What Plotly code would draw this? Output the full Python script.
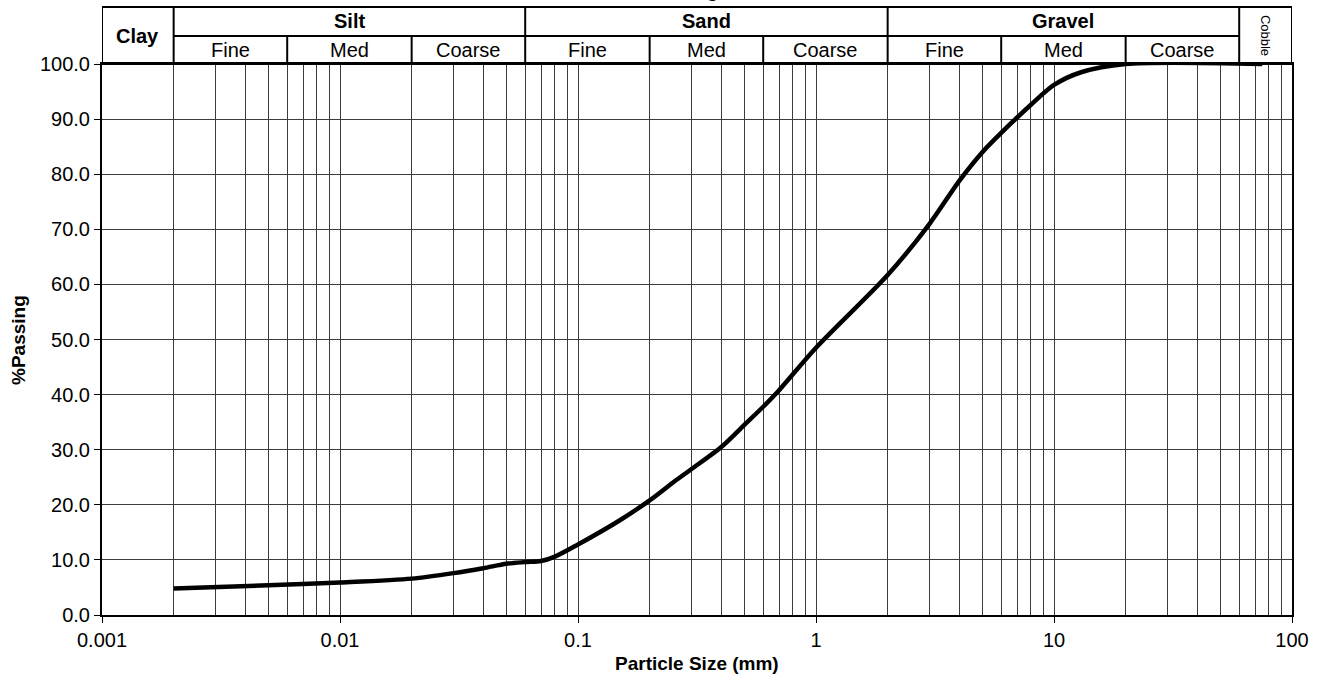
import numpy as np
import plotly.graph_objects as go

# ---- data ----
size_mm = [0.002, 0.005, 0.01, 0.02, 0.03, 0.04, 0.05, 0.06, 0.07, 0.08, 0.1,
           0.15, 0.2, 0.25, 0.3, 0.4, 0.5, 0.6, 0.7, 1.0, 2.0, 3.0, 4.0, 5.0,
           6.0, 8.0, 10.0, 13.0, 20.0, 75.0]
passing = [4.8, 5.4, 5.9, 6.6, 7.6, 8.5, 9.3, 9.6, 9.8, 10.6, 12.8,
           17.2, 20.8, 24.0, 26.5, 30.5, 34.5, 37.8, 40.8, 48.5, 61.7, 71.0, 78.8, 84.0,
           87.5, 92.6, 96.2, 98.5, 100.0, 100.0]

main_classes = ["Clay", "Silt", "Sand", "Gravel", "Cobble"]
main_bounds = [0.001, 0.002, 0.06, 2, 60, 100]
sub_labels = ["Fine", "Med", "Coarse"]
sub_bounds = [0.002, 0.006, 0.02, 0.06, 0.2, 0.6, 2, 6, 20, 60]

x_tickvals = [0.001, 0.01, 0.1, 1, 10, 100]
x_ticktext = ["0.001", "0.01", "0.1", "1", "10", "100"]
y_tickvals = [0, 10, 20, 30, 40, 50, 60, 70, 80, 90, 100]

minor_vals = [m * 10.0 ** e for e in range(-3, 2) for m in range(2, 10)]

FONT = "Liberation Sans, Arial, sans-serif"
FS = 20
W, H = 1320, 675
L, R, T, B = 102, 28, 64, 60
ph = H - T - B

def py(pix):
    return (H - B - pix) / ph

def px(pix):
    return (pix - L) / (W - L - R)

fig = go.Figure()
fig.add_trace(go.Scatter(x=size_mm, y=passing, mode="lines",
                         line=dict(color="black", width=4.5, shape="spline", smoothing=0.8),
                         hoverinfo="skip", showlegend=False))

grid_c = "#3c3c3c"
fig.update_layout(
    width=W, height=H, margin=dict(l=L, r=R, t=T, b=B),
    paper_bgcolor="white", plot_bgcolor="white", showlegend=False,
    font=dict(family=FONT, color="black", size=FS),
    xaxis=dict(type="log", range=[-3, 2], tickvals=x_tickvals, ticktext=x_ticktext,
               showgrid=True, gridcolor=grid_c, gridwidth=1,
               minor=dict(tickvals=minor_vals, showgrid=True, gridcolor=grid_c, gridwidth=1, ticks=""),
               ticks="outside", ticklen=6, tickcolor="black", tickwidth=1,
               showline=True, linecolor="black", linewidth=2, mirror=True,
               tickfont=dict(size=FS), zeroline=False),
    xaxis2=dict(overlaying="x", range=[-3, 2], visible=False, fixedrange=True),
    yaxis=dict(range=[0, 100], tickvals=y_tickvals, tickformat=".1f",
               showgrid=True, gridcolor=grid_c, gridwidth=1,
               ticks="outside", ticklen=6, tickcolor="black", tickwidth=1,
               showline=True, linecolor="black", linewidth=2, mirror=True,
               tickfont=dict(size=FS), zeroline=False),
)

# ---- header table ----
y_top, y_mid, y_bot = py(7), py(36), py(64)
shapes = []
lw = 2
def seg(x0, y0, x1, y1):
    shapes.append(dict(type="line", xref="x2", yref="paper",
                       x0=np.log10(x0), x1=np.log10(x1), y0=y0, y1=y1,
                       line=dict(color="black", width=lw)))

seg(main_bounds[0], y_top, main_bounds[-1], y_top)
seg(main_bounds[0], y_bot, main_bounds[-1], y_bot)
seg(main_bounds[1], y_mid, main_bounds[-2], y_mid)
for b in main_bounds:
    seg(b, y_top, b, y_bot)
for b in sub_bounds:
    if b not in main_bounds:
        seg(b, y_mid, b, y_bot)

annotations = []
def lab(x_log, y, text, size, bold=False, angle=0):
    t = f"<b>{text}</b>" if bold else text
    annotations.append(dict(xref="x2", yref="paper", x=x_log, y=y, text=t,
                            showarrow=False, textangle=angle,
                            font=dict(family=FONT, size=size, color="black"),
                            xanchor="center", yanchor="middle"))

lg = np.log10
lab((lg(main_bounds[0]) + lg(main_bounds[1])) / 2, (y_top + y_bot) / 2, main_classes[0], FS, bold=True)
for i in range(1, 4):
    lab((lg(main_bounds[i]) + lg(main_bounds[i + 1])) / 2, (y_top + y_mid) / 2, main_classes[i], FS, bold=True)
lab((lg(main_bounds[4]) + lg(main_bounds[5])) / 2, (y_top + y_bot) / 2, main_classes[4], 13, angle=90)
for j in range(len(sub_bounds) - 1):
    lab((lg(sub_bounds[j]) + lg(sub_bounds[j + 1])) / 2, (y_mid + y_bot) / 2,
        sub_labels[j % 3], FS)

# chart title, mostly above the page edge (only a descender shows, as in the reference)
annotations.append(dict(xref="paper", yref="paper", x=px(680), y=py(-10),
                        text="<b>Grading</b>", showarrow=False,
                        font=dict(family=FONT, size=FS, color="black"),
                        xanchor="center", yanchor="middle"))

# axis titles
annotations.append(dict(xref="paper", yref="paper", x=px(697), y=py(663),
                        text="<b>Particle Size (mm)</b>", showarrow=False,
                        font=dict(family=FONT, size=FS - 1, color="black"),
                        xanchor="center", yanchor="middle"))
annotations.append(dict(xref="paper", yref="paper", x=px(18), y=py(340),
                        text="<b>%Passing</b>", showarrow=False, textangle=-90,
                        font=dict(family=FONT, size=FS - 1, color="black"),
                        xanchor="center", yanchor="middle"))

fig.update_layout(shapes=shapes, annotations=annotations)
fig.write_html("out.html", config={"displayModeBar": False},
               post_script="document.body.style.margin='0';document.body.style.padding='0';")
